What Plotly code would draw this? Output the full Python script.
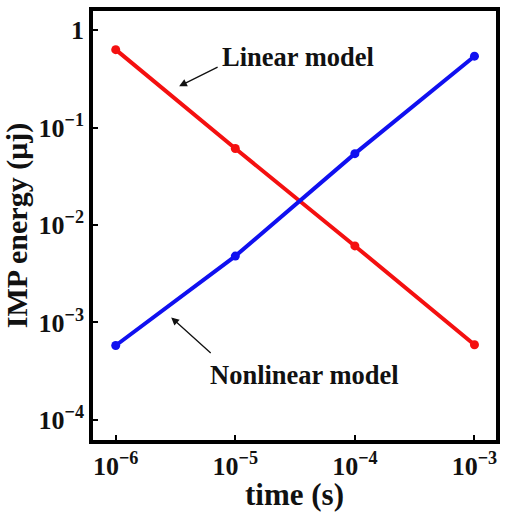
import plotly.graph_objects as go

time_s = [1e-6, 1e-5, 1e-4, 1e-3]
linear_energy = [0.63, 0.061, 0.0061, 0.00059]
nonlinear_energy = [0.00058, 0.0048, 0.054, 0.54]

x_tickvals = [1e-6, 1e-5, 1e-4, 1e-3]
x_ticktext = ["<b>10<sup>−6</sup></b>", "<b>10<sup>−5</sup></b>", "<b>10<sup>−4</sup></b>", "<b>10<sup>−3</sup></b>"]
y_tickvals = [1, 1e-1, 1e-2, 1e-3, 1e-4]
y_ticktext = ["<b>1</b>", "<b>10<sup>−1</sup></b>", "<b>10<sup>−2</sup></b>", "<b>10<sup>−3</sup></b>", "<b>10<sup>−4</sup></b>"]

FONT = "Liberation Serif"

fig = go.Figure()
fig.add_trace(go.Scatter(x=time_s, y=linear_energy, mode="lines+markers",
                         line=dict(color="#f41010", width=4),
                         marker=dict(color="#f41010", size=9), showlegend=False))
fig.add_trace(go.Scatter(x=time_s, y=nonlinear_energy, mode="lines+markers",
                         line=dict(color="#1010f0", width=4),
                         marker=dict(color="#1010f0", size=9), showlegend=False))

axis_common = dict(showline=True, linecolor="black", linewidth=3.5, mirror=True,
                   ticks="inside", ticklen=5, tickwidth=2, tickcolor="black",
                   showgrid=False, zeroline=False)

fig.update_xaxes(type="log", range=[-6.19, -2.82], tickvals=x_tickvals, ticktext=x_ticktext,
                 tickfont=dict(family=FONT, size=26, color="#111"),
                 title=dict(text="<b>time (s)</b>", font=dict(family=FONT, size=31, color="#111"), standoff=2),
                 **axis_common)
fig.update_yaxes(type="log", range=[-4.206, 0.196], tickvals=y_tickvals, ticktext=y_ticktext,
                 tickfont=dict(family=FONT, size=26, color="#111"),
                 title=dict(text="<b>IMP energy (μj)</b>", font=dict(family=FONT, size=30, color="#111"), standoff=4),
                 **axis_common)

annotations = [
    dict(x=-5.47, y=-0.577, xref="x", yref="y", text="", showarrow=True,
         ax=40, ay=-20, arrowhead=2, arrowsize=1.2, arrowwidth=1.3, arrowcolor="#111"),
    dict(x=-5.536, y=-2.948, xref="x", yref="y", text="", showarrow=True,
         ax=41, ay=37, arrowhead=2, arrowsize=1.2, arrowwidth=1.3, arrowcolor="#111"),
    dict(x=-4.476, y=-0.278, xref="x", yref="y", text="<b>Linear model</b>", showarrow=False,
         font=dict(family=FONT, size=26.5, color="#111")),
    dict(x=-4.418, y=-3.536, xref="x", yref="y", text="<b>Nonlinear model</b>", showarrow=False,
         font=dict(family=FONT, size=26.5, color="#111")),
]

fig.update_layout(width=507, height=512, margin=dict(l=93, r=7, t=10, b=72),
                  plot_bgcolor="white", paper_bgcolor="white", annotations=annotations)

fig.write_html("out.html")
